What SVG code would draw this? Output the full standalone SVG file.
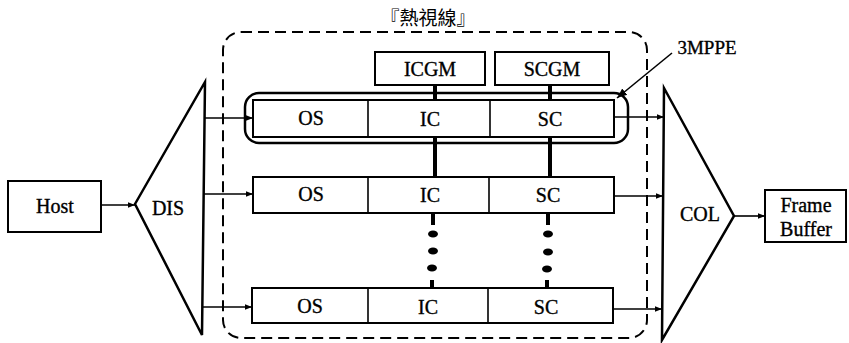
<svg xmlns="http://www.w3.org/2000/svg" width="849" height="343" viewBox="0 0 849 343">
<defs>
<style>
text{font-family:"Liberation Serif","Noto Sans CJK TC",serif;fill:#000;text-anchor:middle}
.lbl{font-size:20px;stroke:#000;stroke-width:0.35}
.box{fill:#fff;stroke:#000;stroke-width:2}
.tri{fill:none;stroke:#000;stroke-width:2.5;stroke-linejoin:miter}
.conn{fill:none;stroke:#000;stroke-width:1.6}
.bus{fill:none;stroke:#000;stroke-width:4}
.dash{fill:none;stroke:#000;stroke-width:2;stroke-dasharray:11 6}
</style>
<marker id="ah" viewBox="0 0 10 10" refX="10" refY="5" markerWidth="7" markerHeight="7" markerUnits="userSpaceOnUse" orient="auto">
<path d="M0,1 L10,5 L0,9 Z" fill="#000"/>
</marker>
<marker id="ah2" viewBox="0 0 10 10" refX="10" refY="5" markerWidth="10" markerHeight="10" markerUnits="userSpaceOnUse" orient="auto">
<path d="M0,1 L10,5 L0,9 Z" fill="#000"/>
</marker>
</defs>

<g id="hotsight">
<rect class="dash" x="223" y="32" width="424" height="306" rx="18"/>
<text x="428" y="25" style="font-size:19px">『熱視線』</text>
</g>

<g id="host">
<rect class="box" x="8" y="181" width="93" height="51"/>
<text class="lbl" x="55" y="213">Host</text>
</g>

<g id="dis">
<path class="tri" d="M135,204 L205,82 L202,335 Z"/>
<text class="lbl" x="168" y="215">DIS</text>
</g>

<g id="col">
<path class="tri" d="M664,88 L734,216 L662,340 Z"/>
<text class="lbl" x="700" y="221">COL</text>
</g>

<g id="framebuffer">
<rect class="box" x="765" y="190" width="81" height="52"/>
<text class="lbl" x="806" y="212">Frame</text>
<text class="lbl" x="806" y="236">Buffer</text>
</g>

<g id="icgm">
<rect class="box" x="375" y="52" width="110" height="33"/>
<text class="lbl" x="430" y="76">ICGM</text>
</g>

<g id="scgm">
<rect class="box" x="495" y="52" width="114" height="33"/>
<text class="lbl" x="552" y="76">SCGM</text>
</g>

<g id="mppe3">
<rect fill="none" stroke="#000" stroke-width="2.5" x="245" y="93" width="383" height="50" rx="14"/>
<text class="lbl" x="707" y="54" style="font-size:19px">3MPPE</text>
</g>

<g id="row1">
<rect class="box" x="253" y="100" width="361" height="37"/>
<line class="conn" x1="368" y1="100" x2="368" y2="137" stroke-width="2"/>
<line class="conn" x1="490" y1="100" x2="490" y2="137" stroke-width="2"/>
<text class="lbl" x="311" y="125">OS</text>
<text class="lbl" x="430" y="126">IC</text>
<text class="lbl" x="550" y="126">SC</text>
</g>

<g id="row2">
<rect class="box" x="253" y="177" width="361" height="36"/>
<line class="conn" x1="368" y1="177" x2="368" y2="213" stroke-width="2"/>
<line class="conn" x1="489" y1="177" x2="489" y2="213" stroke-width="2"/>
<text class="lbl" x="311" y="201">OS</text>
<text class="lbl" x="430" y="202">IC</text>
<text class="lbl" x="548" y="202">SC</text>
</g>

<g id="row3">
<rect class="box" x="252" y="288" width="361" height="35"/>
<line class="conn" x1="368" y1="288" x2="368" y2="323" stroke-width="2"/>
<line class="conn" x1="488" y1="288" x2="488" y2="323" stroke-width="2"/>
<text class="lbl" x="310" y="313">OS</text>
<text class="lbl" x="428" y="314">IC</text>
<text class="lbl" x="546" y="314">SC</text>
</g>

<g id="connectors">
<line class="conn" x1="101" y1="205" x2="135" y2="205" marker-end="url(#ah)"/>
<line class="conn" x1="205" y1="118" x2="253" y2="118" marker-end="url(#ah)"/>
<line class="conn" x1="203" y1="194" x2="253" y2="194" marker-end="url(#ah)"/>
<line class="conn" x1="202" y1="307" x2="252" y2="307" marker-end="url(#ah)"/>
<line class="conn" x1="614" y1="117" x2="664" y2="117" marker-end="url(#ah)"/>
<line class="conn" x1="614" y1="196" x2="663" y2="196" marker-end="url(#ah)"/>
<line class="conn" x1="613" y1="309" x2="662" y2="309" marker-end="url(#ah)"/>
<line class="conn" x1="734" y1="216" x2="765" y2="216" marker-end="url(#ah)"/>
<line class="conn" x1="672" y1="53" x2="617" y2="98" stroke-width="2" marker-end="url(#ah2)"/>
<line class="bus" x1="435" y1="85" x2="435" y2="100"/>
<line class="bus" x1="550" y1="85" x2="550" y2="100"/>
<line class="bus" x1="435" y1="137" x2="435" y2="177"/>
<line class="bus" x1="550" y1="137" x2="550" y2="177"/>
<line class="bus" x1="433" y1="213" x2="433" y2="225"/>
<line class="bus" x1="548" y1="213" x2="548" y2="225"/>
<line class="bus" x1="432" y1="280" x2="432" y2="288"/>
<line class="bus" x1="547" y1="280" x2="547" y2="288"/>
<ellipse cx="433" cy="234" rx="5" ry="3.5"/>
<ellipse cx="433" cy="251" rx="5" ry="3.5"/>
<ellipse cx="432" cy="268" rx="5" ry="3.5"/>
<ellipse cx="548" cy="234" rx="5" ry="3.5"/>
<ellipse cx="548" cy="252" rx="5" ry="3.5"/>
<ellipse cx="547" cy="269" rx="5" ry="3.5"/>
</g>
</svg>
